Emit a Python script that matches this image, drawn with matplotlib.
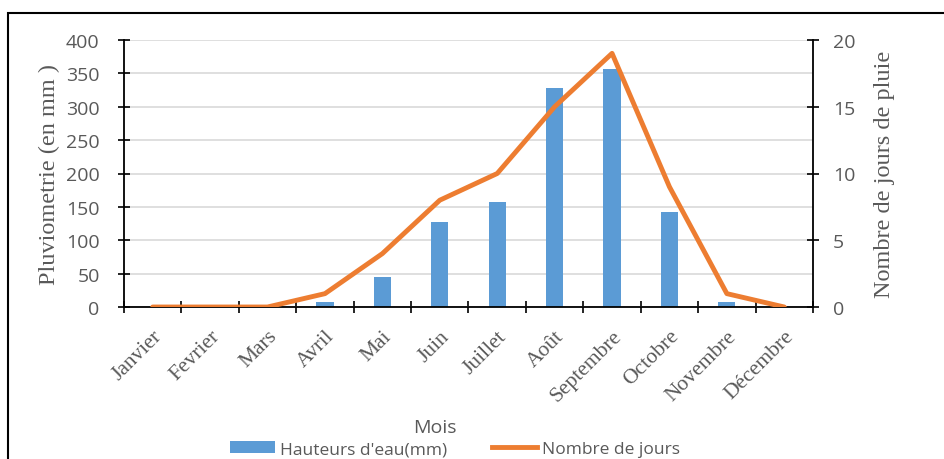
import matplotlib
matplotlib.use('Agg')
from matplotlib import pyplot as plt
from matplotlib.lines import Line2D
from matplotlib.patches import Patch, Rectangle
import numpy as np

months = ['Janvier', 'Fevrier', 'Mars', 'Avril', 'Mai', 'Juin', 'Juillet',
          'Août', 'Septembre', 'Octobre', 'Novembre', 'Décembre']
rain_mm = [0, 0, 0, 8, 45, 127, 157, 328, 356, 142, 8, 0]
rain_days = [0, 0, 0, 1, 4, 8, 10, 15, 19, 9, 1, 0]

blue = '#5B9BD5'
orange = '#ED7D31'
grey = '#595959'
sans = 'Open Sans'
serif = 'Liberation Serif'

fig = plt.figure(figsize=(9.45, 4.6), dpi=100)
W, H = 945, 460

# outer chart frame (clipped on the right and bottom in the original)
fig.patches.append(Rectangle((8 / W, -0.1), 1.2, (H - 14) / H + 0.1,
                             transform=fig.transFigure, fill=False,
                             edgecolor='black', linewidth=1.5))

ax = fig.add_axes([124 / W, 1 - 308 / H, (813 - 124) / W, (308 - 41) / H])
x = np.arange(len(months))
ax.bar(x, rain_mm, width=0.3, color=blue, zorder=2)
ax.set_xlim(-0.5, 11.5)
ax.set_ylim(0, 400)
ax.set_yticks(np.arange(0, 401, 50))
ax.yaxis.grid(True, color='#D9D9D9', linewidth=1.2, zorder=0)
ax.set_axisbelow(True)

ax.set_xticks(np.arange(-0.5, 12, 1))
ax.set_xticklabels([])
ax.set_xticks(x, minor=True)
ax.set_xticklabels(months, minor=True, rotation=45, ha='right',
                   rotation_mode='anchor', fontfamily=serif, fontsize=15.5,
                   color=grey)
ax.tick_params(axis='x', which='minor', length=0, pad=14)
ax.tick_params(axis='x', which='major', direction='inout', length=9,
               width=1.2)
ax.tick_params(axis='y', direction='inout', length=9, width=1.2,
               labelsize=14, labelcolor=grey, pad=13)
for lab in ax.get_yticklabels():
    lab.set_fontfamily(sans)

for side in ['top', 'right']:
    ax.spines[side].set_visible(False)
for side in ['left', 'bottom']:
    ax.spines[side].set_linewidth(1.3)
ax.set_ylabel('Pluviometrie (en mm )', fontfamily=serif, fontsize=17.5,
              color=grey, labelpad=4)

ax2 = ax.twinx()
ax2.plot(x, rain_days, color=orange, linewidth=3.5, solid_capstyle='round',
         zorder=3)
ax2.set_ylim(0, 20)
ax2.set_yticks(np.arange(0, 21, 5))
ax2.tick_params(axis='y', direction='inout', length=9, width=1.2,
                labelsize=14, labelcolor=grey, pad=10)
for lab in ax2.get_yticklabels():
    lab.set_fontfamily(sans)
for side in ['top', 'left', 'bottom']:
    ax2.spines[side].set_visible(False)
ax2.spines['right'].set_linewidth(1.3)
ax2.set_ylabel('Nombre de jours de pluie', fontfamily=serif, fontsize=17.5,
               color=grey, labelpad=13)

fig.text(435 / W, 1 - 428 / H, 'Mois', fontfamily=sans, fontsize=14,
         color=grey, ha='center', va='center')

handles = [Patch(facecolor=blue), Line2D([], [], color=orange, linewidth=3.5)]
fig.legend(handles, ["Hauteurs d'eau(mm)", 'Nombre de jours'],
           loc='center', bbox_to_anchor=(455 / W, 1 - 450 / H), ncol=2,
           frameon=False, prop={'family': sans, 'size': 12.5},
           labelcolor=grey, handlelength=2.6, handletextpad=0.3,
           columnspacing=2.6, borderpad=0)

plt.savefig('out.png', dpi=100)
